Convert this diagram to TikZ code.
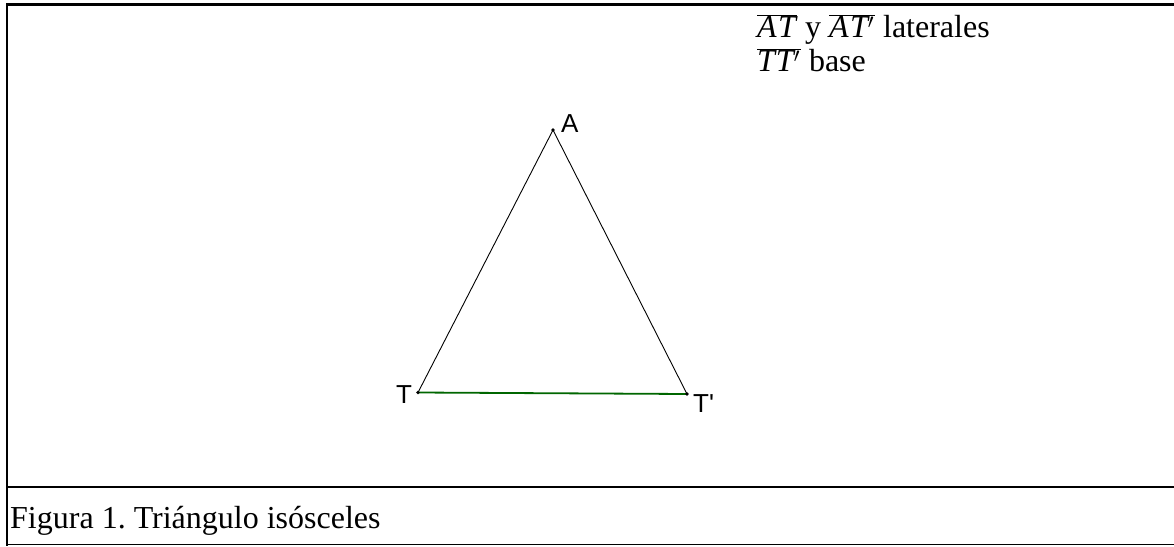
\documentclass[tikz,border=0pt]{standalone}
\usepackage{fontspec}
\setmainfont{Liberation Serif}
\newfontfamily\arialfont{Liberation Sans}
\frenchspacing
\newcommand{\segm}[1]{\overline{\rule{0pt}{21.5pt}\textit{#1}}}
\begin{document}
\begin{tikzpicture}[x=1pt,y=-1pt,
  ptlabel/.style={font=\arialfont\fontsize{26}{30}\selectfont, inner sep=0pt, anchor=base west},
  txt/.style={font=\fontsize{32}{34}\selectfont, inner sep=0pt, anchor=base west},
  side/.style={black, line width=0.9pt},
  basecol/.style={draw=green!40!black, line width=1.8pt},
  frame/.style={black, line width=2.4pt}]
\useasboundingbox (0,0) rectangle (1174,546);
% frame
\draw[frame] (1180,4.5) -- (7,4.5) -- (7,546);
\draw[frame] (7,487) -- (1180,487);
\draw[black, line width=1.6pt] (7,544.5) -- (1180,544.5);
% points
\coordinate (A) at (553,130);
\coordinate (T) at (418,392.5);
\coordinate (Tp) at (687,394);
\draw[side] (T) -- (A) -- (Tp);
\draw[basecol] (T) -- (Tp);
\fill (A) circle (1.8);
\fill (T) circle (1.8);
\fill (Tp) circle (1.8);
\node[ptlabel] (lA) at (561,132) {A};
\node[ptlabel] (lT) at (396,403) {T};
\node[ptlabel] (lTp) at (693,412) {T'};
% legend
\node[txt, anchor=north west, align=left] (legend) at (757,14)
  {$\segm{A\kern1.5pt T\kern1pt}$ y $\segm{A\kern1.5pt T$'$\kern1pt}$ laterales\\
   $\segm{T\kern1pt T$'$\kern1pt}$ base};
% caption
\node[txt] (cap) at (10,528) {Figura 1. Triángulo isósceles};
\end{tikzpicture}
\end{document}
